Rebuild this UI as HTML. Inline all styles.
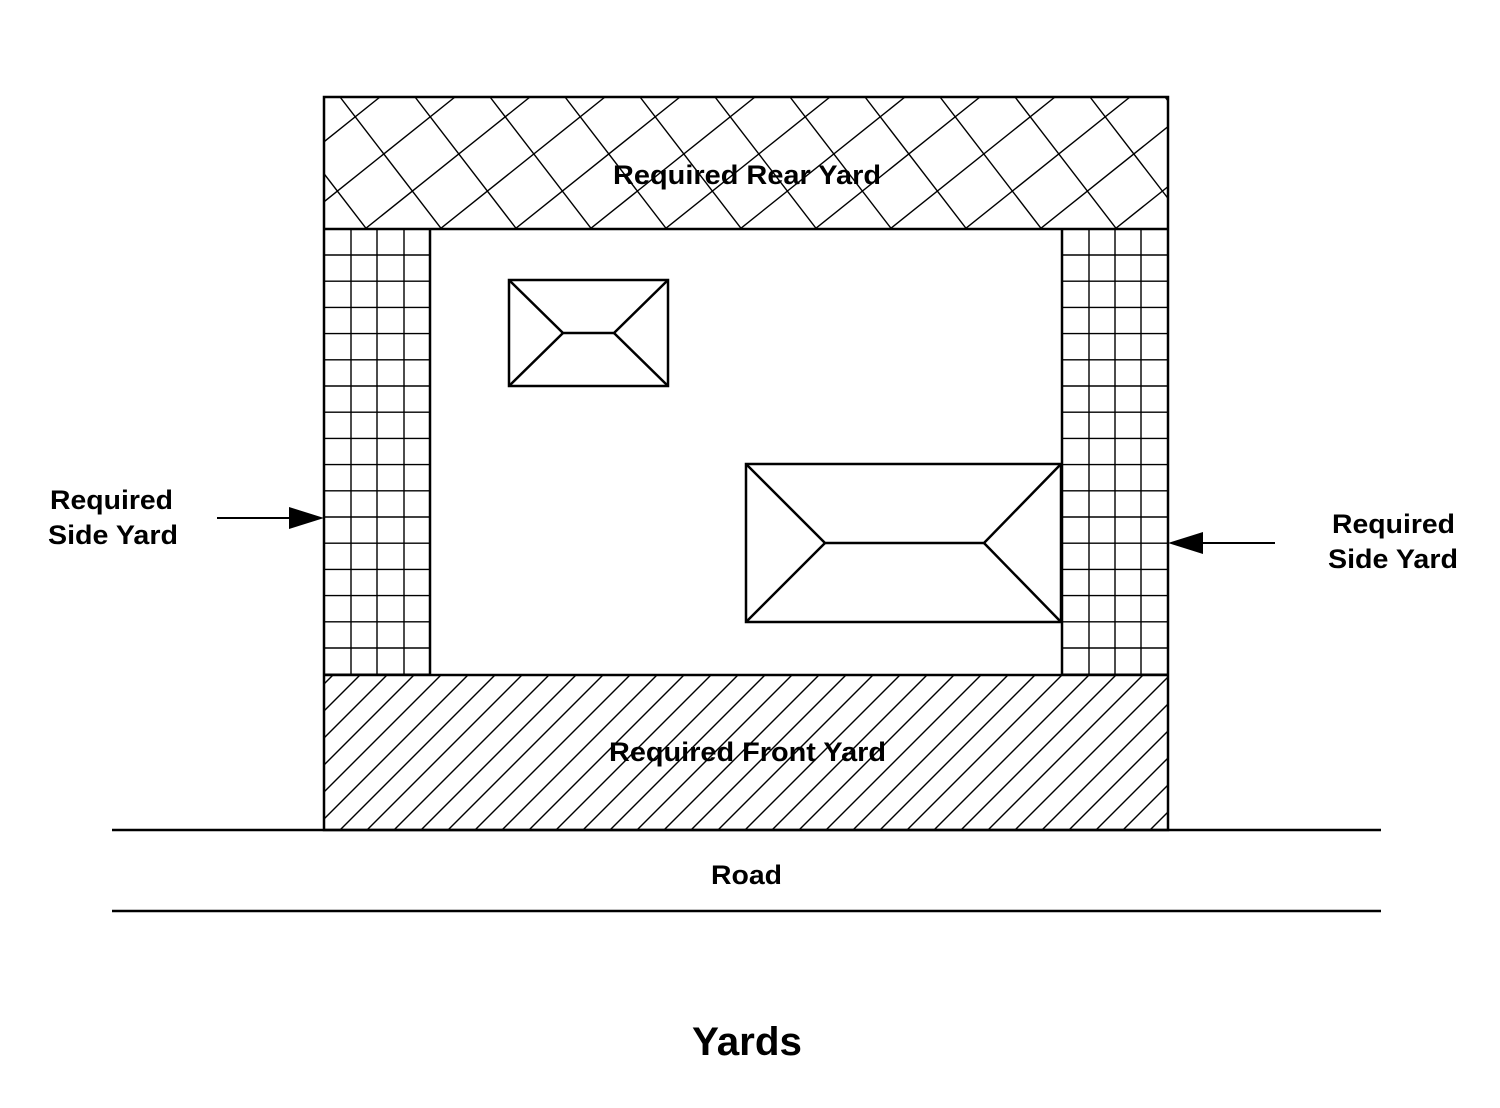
<!DOCTYPE html>
<html><head><style>body{margin:0;background:#fff}svg{display:block}</style></head>
<body>
<svg width="1500" height="1108" viewBox="0 0 1500 1108" xmlns="http://www.w3.org/2000/svg" font-family="'Liberation Sans',sans-serif">
<defs>
<clipPath id="rear"><rect x="324" y="97" width="844" height="132"/></clipPath>
<clipPath id="front"><rect x="324" y="675" width="844" height="155"/></clipPath>
</defs>
<rect width="1500" height="1108" fill="#fff"/>
<g id="rearh" clip-path="url(#rear)" stroke="#000" stroke-width="1.4"></g>
<g id="fronth" clip-path="url(#front)" stroke="#000" stroke-width="1.4"></g>
<g id="grid" stroke="#000" stroke-width="1.4"></g>
<g fill="none" stroke="#000" stroke-width="2.5">
<rect x="324" y="97" width="844" height="733"/>
<line x1="324" y1="229" x2="1168" y2="229"/>
<line x1="324" y1="675" x2="1168" y2="675"/>
<line x1="430" y1="229" x2="430" y2="675"/>
<line x1="1062" y1="229" x2="1062" y2="675"/>
<rect x="509" y="280" width="159" height="106" fill="#fff"/>
<polyline points="509,280 563,333 614,333 668,280"/>
<polyline points="509,386 563,333"/><polyline points="614,333 668,386"/>
<rect x="746" y="464" width="315" height="158" fill="#fff"/>
<polyline points="746,464 825,543 984,543 1061,464"/>
<line x1="746" y1="622" x2="825" y2="543"/><line x1="984" y1="543" x2="1061" y2="622"/>
<line x1="112" y1="830" x2="1381" y2="830"/>
<line x1="112" y1="911" x2="1381" y2="911"/>
<line x1="217" y1="518" x2="292" y2="518" stroke-width="2"/>
<line x1="1275" y1="543" x2="1200" y2="543" stroke-width="2"/>
</g>
<polygon points="324,518 289,507 289,529" fill="#000"/>
<polygon points="1168,543 1203,532 1203,554" fill="#000"/>
<g font-weight="bold" font-size="27" fill="#000">
<text x="613" y="184" textLength="268" lengthAdjust="spacingAndGlyphs">Required Rear Yard</text>
<text x="609" y="761" textLength="277" lengthAdjust="spacingAndGlyphs">Required Front Yard</text>
<text x="50" y="509" textLength="123" lengthAdjust="spacingAndGlyphs">Required</text>
<text x="48" y="544" textLength="130" lengthAdjust="spacingAndGlyphs">Side Yard</text>
<text x="1332" y="533" textLength="123" lengthAdjust="spacingAndGlyphs">Required</text>
<text x="1328" y="568" textLength="130" lengthAdjust="spacingAndGlyphs">Side Yard</text>
<text x="711" y="884" textLength="71" lengthAdjust="spacingAndGlyphs">Road</text>
<text x="692" y="1055" font-size="40" textLength="110" lengthAdjust="spacingAndGlyphs">Yards</text>
</g>
</svg>
<script>
(function(){
var ns="http://www.w3.org/2000/svg";
function L(g,x1,y1,x2,y2){var l=document.createElementNS(ns,"line");l.setAttribute("x1",x1);l.setAttribute("y1",y1);l.setAttribute("x2",x2);l.setAttribute("y2",y2);g.appendChild(l);}
var r=document.getElementById("rearh");
for(var x=340-300;x<1300;x+=75){L(r,x,97,x+150,97+150*1.3);}
for(var x=455-300;x<1500;x+=75){L(r,x,97,x-250,97+250*0.8);}
var f=document.getElementById("fronth");
for(var x=324-200;x<1400;x+=27){L(f,x,830,x+160,670);}
var g=document.getElementById("grid");
[351,377,404,1089,1115,1141].forEach(function(x){L(g,x,229,x,675);});
for(var y=255;y<675;y+=26.2){L(g,324,y,430,y);L(g,1062,y,1168,y);}
})();
</script>
</body></html>
